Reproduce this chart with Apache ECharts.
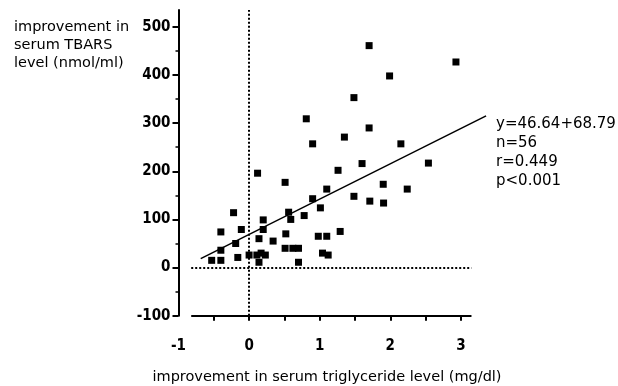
<!DOCTYPE html>
<html><head><meta charset="utf-8">
<script src="https://cdn.jsdelivr.net/npm/echarts@6/dist/echarts.min.js"></script>
<style>html,body{margin:0;padding:0;background:#fff}#c{width:618px;height:386px}</style>
</head><body><div id="c"></div>
<script>
// Data
const triglycerideImprovement = [
  1.70, 2.93, 1.99, 1.485, 0.81, 1.70, 1.35, 0.90, 2.15,
  0.12, 1.60, 2.54, 1.26, 0.51, 1.90, 1.10, 2.24, 1.485, 0.90,
  1.71, 1.905, 1.01, -0.22, 0.56, 0.78, 0.59, 0.20, -0.40, -0.11,
  0.20, 1.29, 0.98, 1.10, 0.52, 0.14, 0.34, -0.19, -0.40, 0.51,
  0.62, 0.70, -0.16, 0.00, 0.11, 0.17, 0.23, 0.14, 1.04, 1.12,
  -0.53, -0.40, 0.70
];
const tbarsImprovement = [
  461, 427, 398, 353, 309, 290, 271, 257, 257,
  196, 216, 217, 202, 177, 173, 163, 163, 148, 143,
  138, 134, 124, 114, 115, 108, 100, 99, 74, 79,
  79, 75, 65, 65, 70, 60, 55, 50, 36, 40,
  40, 40, 21, 26, 26, 30, 26, 11, 30, 26,
  15, 15, 11
];
const xTickLabels = [-1, 0, 1, 2, 3];
const xTickMarks = [-0.5, 0, 0.5, 1, 1.5, 2, 2.5, 3];
const yTickLabels = [-100, 0, 100, 200, 300, 400, 500];
const yMinorTicks = [-50, 50, 150, 250, 350, 450];
const regressionX = [-0.685, 3.357];
const regressionY = [18.7, 315];
const statsLines = ['y=46.64+68.79', 'n=56', 'r=0.449', 'p<0.001'];
const yTitleLines = ['improvement in', 'serum TBARS', 'level (nmol/ml)'];
const xTitle = 'improvement in serum triglyceride level (mg/dl)';

const tickFont = "'Liberation Sans Narrow','DejaVu Sans Condensed',sans-serif";
const textFont = "'DejaVu Sans',sans-serif";

const points = triglycerideImprovement.map((x, i) => [x, tbarsImprovement[i]]);
const regression = regressionX.map((x, i) => [x, regressionY[i]]);

const chart = echarts.init(document.getElementById('c'), null, {renderer: 'canvas'});
chart.setOption({
  animation: false,
  backgroundColor: '#fff',
  grid: {left: 178.5, right: 131.7, top: 10, bottom: 70.3, containLabel: false, outerBoundsMode: 'none'},
  xAxis: {
    type: 'value', min: -1, max: 3.36, interval: 0.5,
    axisLine: {show: false, onZero: false},
    axisTick: {show: true, length: 5, customValues: xTickMarks, lineStyle: {color: '#000', width: 2}},
    axisLabel: {
      margin: 23, color: '#000', fontFamily: tickFont, fontWeight: 'bold', fontSize: 15,
      customValues: xTickLabels,
      formatter: v => String(v)
    },
    splitLine: {show: false}
  },
  yAxis: [{
    type: 'value', min: -100, max: 535, interval: 100,
    axisLine: {show: true, onZero: false, lineStyle: {color: '#000', width: 2}},
    axisTick: {show: true, length: 6, customValues: yTickLabels, lineStyle: {color: '#000', width: 2}},
    axisLabel: {
      margin: 8, color: '#000', fontFamily: tickFont, fontWeight: 'bold', fontSize: 15,
      customValues: yTickLabels,
      formatter: v => String(v)
    },
    splitLine: {show: false}
  }, {
    type: 'value', min: -100, max: 535, interval: 100, position: 'left',
    axisLine: {show: false, onZero: false},
    axisTick: {show: true, length: 3, customValues: yMinorTicks, lineStyle: {color: '#000', width: 1.5}},
    axisLabel: {show: false},
    splitLine: {show: false}
  }],
  graphic: [
    {type: 'text', left: 14, top: 18, style: {text: yTitleLines.join('\n'), font: '14.5px ' + textFont, fill: '#000', lineHeight: 18}},
    {type: 'text', left: 496, top: 114, style: {text: statsLines.join('\n'), font: '15px ' + textFont, fill: '#000', lineHeight: 19.3}},
    {type: 'text', x: 327, y: 377, style: {text: xTitle, font: '14.5px ' + textFont, fill: '#000', align: 'center', verticalAlign: 'middle'}}
  ],
  series: [
    {
      type: 'scatter', data: points, symbol: 'rect', symbolSize: 7,
      itemStyle: {color: '#000', opacity: 1}, silent: true,
      markLine: {
        silent: true, symbol: 'none', label: {show: false},
        data: [
          [{coord: [-0.82, -100], lineStyle: {type: 'solid', width: 2, color: '#000'}}, {coord: [3.15, -100]}],
          [{coord: [-0.82, 0], lineStyle: {type: [2, 2], width: 2, color: '#000'}}, {coord: [3.15, 0]}],
          [{coord: [0, -100], lineStyle: {type: [2, 2], width: 2, color: '#000'}}, {coord: [0, 535]}]
        ]
      }
    },
    {
      type: 'line', data: regression, symbol: 'none', silent: true,
      lineStyle: {color: '#000', width: 1.5}
    }
  ]
});
</script></body></html>
